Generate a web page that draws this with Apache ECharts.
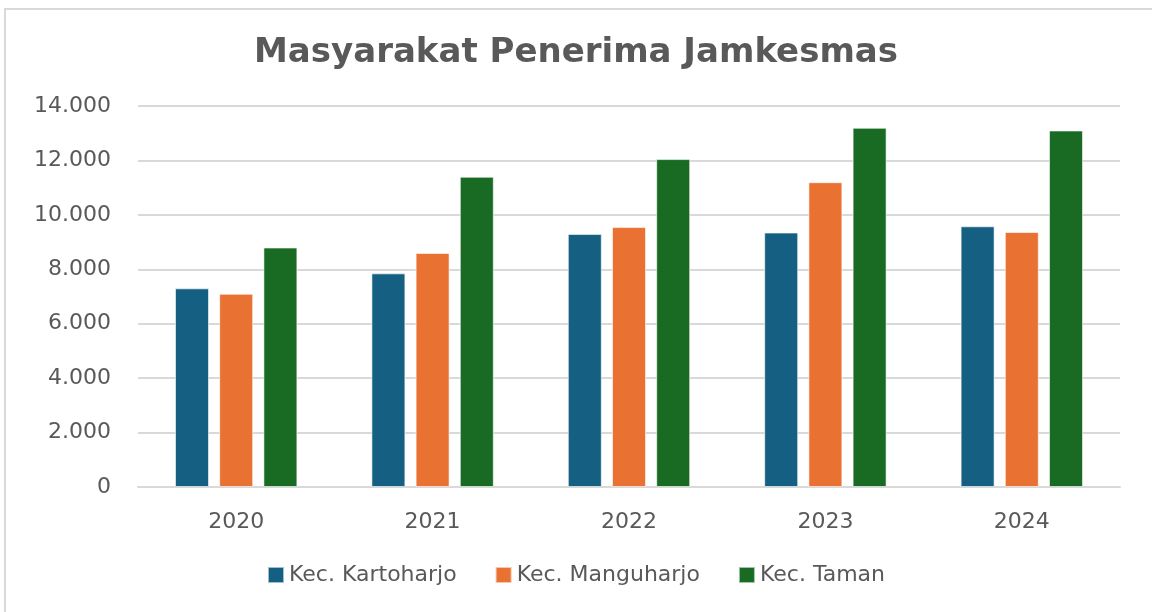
<!DOCTYPE html>
<html>
<head>
<meta charset="utf-8">
<script src="https://cdn.jsdelivr.net/npm/echarts@6/dist/echarts.min.js"></script>
<style>
  html, body { margin: 0; padding: 0; background: #fff; }
  #chart { width: 1152px; height: 612px; }
  #frame { position: absolute; left: 4px; top: 8px; width: 1200px; height: 700px;
    border: 2px solid #d9d9d9; pointer-events: none; box-sizing: border-box; }
</style>
</head>
<body>
<div id="chart"></div>
<div id="frame"></div>
<script>
// data
const years = ['2020', '2021', '2022', '2023', '2024']
const kartoharjo = [7300, 7850, 9300, 9350, 9580]
const manguharjo = [7100, 8600, 9550, 11200, 9370]
const taman = [8800, 11400, 12050, 13200, 13100]

const colorList = ['#156082', '#e97132', '#196b24']
const textColor = '#595959'

const myChart = echarts.init(document.getElementById('chart'))

const fmt = function (v) {
  return String(v).replace(/\B(?=(\d{3})+(?!\d))/g, '.')
}

const barStyle = function (c) {
  return { color: c, borderColor: 'rgba(255,255,255,0.6)', borderWidth: 1 }
}

myChart.setOption({
  animation: false,
  title: {
    text: 'Masyarakat Penerima Jamkesmas',
    left: 'center',
    top: 31,
    textStyle: {
      fontFamily: 'DejaVu Sans',
      fontWeight: 'bold',
      fontSize: 34,
      color: textColor,
    },
  },
  legend: {
    bottom: 21,
    left: 'center',
    itemWidth: 16,
    itemHeight: 16,
    itemGap: 38,
    icon: 'rect',
    textStyle: {
      fontFamily: 'DejaVu Sans',
      fontSize: 22,
      color: textColor,
    },
  },
  grid: {
    left: 138,
    right: 32,
    top: 106,
    bottom: 125,
  },
  xAxis: {
    type: 'category',
    data: years,
    axisTick: { show: false },
    axisLine: { lineStyle: { color: '#d9d9d9', width: 2 } },
    axisLabel: {
      margin: 24,
      fontFamily: 'DejaVu Sans',
      fontSize: 22,
      color: textColor,
    },
  },
  yAxis: {
    type: 'value',
    min: 0,
    max: 14000,
    interval: 2000,
    axisLine: { show: false },
    axisTick: { show: false },
    splitLine: { lineStyle: { color: '#d9d9d9', width: 2 } },
    axisLabel: {
      margin: 27,
      fontFamily: 'DejaVu Sans',
      fontSize: 22,
      color: textColor,
      formatter: fmt,
    },
  },
  series: [
    {
      name: 'Kec. Kartoharjo',
      type: 'bar',
      barWidth: 34,
      barGap: '30%',
      data: kartoharjo,
      itemStyle: barStyle(colorList[0]),
    },
    {
      name: 'Kec. Manguharjo',
      type: 'bar',
      barWidth: 34,
      barGap: '30%',
      data: manguharjo,
      itemStyle: barStyle(colorList[1]),
    },
    {
      name: 'Kec. Taman',
      type: 'bar',
      barWidth: 34,
      barGap: '30%',
      data: taman,
      itemStyle: barStyle(colorList[2]),
    },
  ],
})
</script>
</body>
</html>
